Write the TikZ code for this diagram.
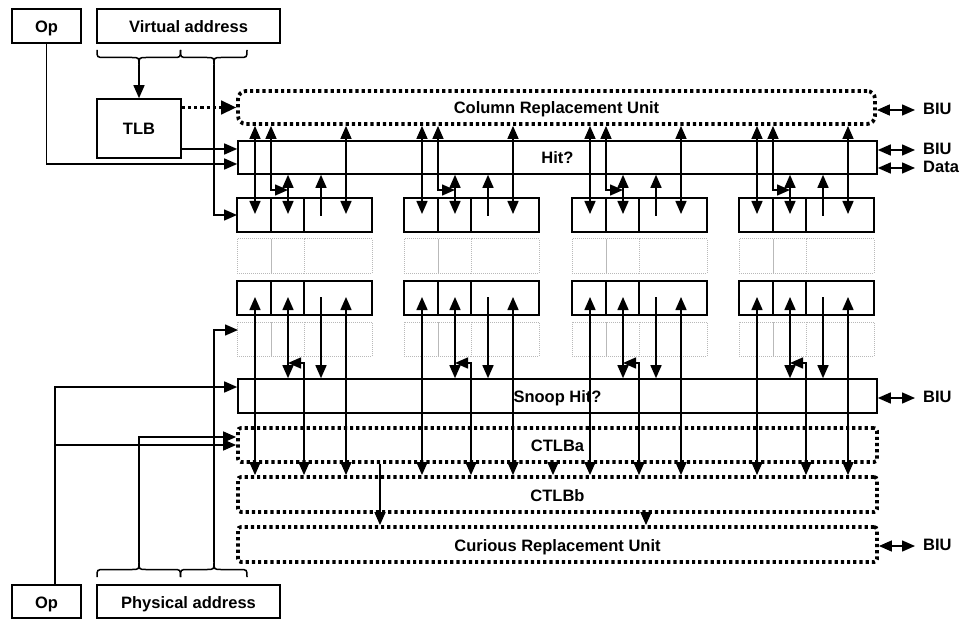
\documentclass[tikz,border=0pt]{standalone}
\usepackage{fontspec}
\setmainfont{Liberation Sans}
\usetikzlibrary{arrows.meta,calc}
\begin{document}
\begin{tikzpicture}[x=1pt,y=-1pt,
  every node/.style={font=\fontsize{16.5}{19}\selectfont\bfseries,text height=14pt,text depth=1pt},
  box/.style={draw,line width=1.6pt,inner sep=0pt},
  dbox/.style={draw,line width=3.8pt,dash pattern=on 3.2pt off 3pt,inner sep=0pt,rounded corners=3pt},
  gcell/.style={draw=gray!55,line width=1pt,dash pattern=on 1pt off 1pt},
  scell/.style={draw,line width=1.6pt},
  arr/.style={line width=1.5pt,-{Triangle[length=13pt,width=11pt]}},
  darr/.style={line width=1.5pt,{Triangle[length=13pt,width=11pt]}-{Triangle[length=13pt,width=11pt]}},
  brc/.style={line width=1.5pt},
]
\useasboundingbox (0,0) rectangle (963,620);

% top-left boxes
\node[box,minimum width=69pt,minimum height=34pt] (OpT) at (46.5,26) {Op};
\node[box,minimum width=183pt,minimum height=34pt] (VA) at (188.5,26) {Virtual address};
\node[box,minimum width=84pt,minimum height=59pt] (TLB) at (139,128.5) {TLB};

% bottom-left boxes
\node[box,minimum width=69pt,minimum height=33pt] (OpB) at (46.5,601.5) {Op};
\node[box,minimum width=183pt,minimum height=33pt] (PA) at (188.5,601.5) {Physical address};

% wide units
\node[dbox,rounded corners=8pt,minimum width=637pt,minimum height=33pt] (CRU) at (556.5,107.5) {Column Replacement Unit};
\node[box,minimum width=639pt,minimum height=33pt] (Hit) at (557.5,157.5) {Hit?};
\node[box,minimum width=639pt,minimum height=34pt] (Snoop) at (557.5,396) {Snoop Hit?};
\node[dbox,minimum width=639pt,minimum height=34pt] (CTLBa) at (557.5,445) {CTLBa};
\node[dbox,minimum width=639pt,minimum height=35pt] (CTLBb) at (557.5,494.5) {CTLBb};
\node[dbox,minimum width=639pt,minimum height=35pt] (Cur) at (557.5,544.5) {Curious Replacement Unit};

% cells
\foreach \x in {237,404,572,739}{
  \foreach \y/\st in {198/scell,239/gcell,281/scell,322/gcell}{
    \draw[\st] (\x,\y) rectangle ++(34,34);
    \draw[\st] (\x+34,\y) rectangle ++(33,34);
    \draw[\st] (\x+67,\y) rectangle ++(68,34);
  }
}

% arrows per column group
\foreach \x in {237,404,572,739}{
  \coordinate (xa) at (\x+18,0);
  \coordinate (xb) at (\x+34,0);
  \coordinate (xc) at (\x+51,0);
  \coordinate (xd) at (\x+84,0);
  \coordinate (xe) at (\x+109,0);
  \coordinate (xf) at (\x+67,0);
  % upper row
  \draw[darr] (xa |- CRU.south) -- (\x+18,214);
  \draw[darr] (xb |- CRU.south) |- (\x+51,190);
  \draw[darr] (xc |- Hit.south) -- (\x+51,214);
  \draw[arr] (\x+84,216) -- (xd |- Hit.south);
  \draw[darr] (xe |- CRU.south) -- (\x+109,214);
  % lower row
  \draw[darr] (\x+18,297) -- (xa |- CTLBb.north);
  \draw[darr] (\x+51,297) -- (xc |- Snoop.north);
  \draw[darr] (\x+51,363) -| (xf |- CTLBb.north);
  \draw[arr] (\x+84,297) -- (xd |- Snoop.north);
  \draw[darr] (\x+109,297) -- (xe |- CTLBb.north);
}

% extra unit-to-unit arrows
\coordinate (e1) at (553,0);
\coordinate (e2) at (380,0);
\coordinate (e3) at (646,0);
\draw[arr] (e1 |- CTLBa.south) -- (e1 |- CTLBb.north);
\draw[arr] (e2 |- CTLBa.south) -- (e2 |- Cur.north);
\draw[arr] (e3 |- CTLBb.south) -- (e3 |- Cur.north);

% top braces
\draw[brc] (97,50) .. controls (97,57.5) .. (104.5,57.5) -- (131.5,57.5) .. controls (139,57.5) .. (139,65)
  .. controls (139,57.5) .. (146.5,57.5) -- (173,57.5) .. controls (180.5,57.5) .. (180.5,50);
\draw[brc] (180.5,50) .. controls (180.5,57.5) .. (188,57.5) -- (206.5,57.5) .. controls (214,57.5) .. (214,65)
  .. controls (214,57.5) .. (221.5,57.5) -- (239.5,57.5) .. controls (247,57.5) .. (247,50);
\coordinate (cA) at (139,65);
\coordinate (cB) at (214,65);

% bottom braces
\draw[brc] (97,577) .. controls (97,569.5) .. (104.5,569.5) -- (131.5,569.5) .. controls (139,569.5) .. (139,562)
  .. controls (139,569.5) .. (146.5,569.5) -- (173,569.5) .. controls (180.5,569.5) .. (180.5,577);
\draw[brc] (180.5,577) .. controls (180.5,569.5) .. (188,569.5) -- (206.5,569.5) .. controls (214,569.5) .. (214,562)
  .. controls (214,569.5) .. (221.5,569.5) -- (239.5,569.5) .. controls (247,569.5) .. (247,577);
\coordinate (cC) at (139,562);
\coordinate (cD) at (214,562);

% left-side connectors (top)
\draw[arr] (cA) -- (TLB.north);
\coordinate (r1w) at (237,215);
\draw[arr] (cB) |- (r1w);
\draw[line width=3.8pt,dash pattern=on 3.2pt off 3pt] (TLB.east |- CRU.west) -- ($(CRU.west)+(-14,0)$);
\draw[line width=1.5pt,-{Triangle[length=15pt,width=14pt]}] ($(CRU.west)+(-16,0)$) -- (CRU.west);
\coordinate (hA) at ($(Hit.west)+(0,-8.5)$);
\coordinate (hB) at ($(Hit.west)+(0,6.5)$);
\draw[arr] (TLB.east |- hA) -- (hA);
\draw[arr] (OpT.south) |- (hB);

% left-side connectors (bottom)
\coordinate (r4w) at (238,330);
\draw[arr] (cD) |- (r4w);
\coordinate (aA) at ($(CTLBa.west)+(0,-8)$);
\draw[arr] (cC) |- (aA);
\coordinate (opx) at ($(OpB.north)+(8.5,0)$);
\coordinate (sA) at ($(Snoop.west)+(0,-9)$);
\draw[arr] (opx) |- (sA);
\draw[arr] (opx |- CTLBa.west) -- (CTLBa.west);

% right-side BIU / Data
\node[anchor=west,inner sep=0pt,text height=12pt,text depth=3pt] (biu1) at (923,110) {BIU};
\node[anchor=west,inner sep=0pt,text height=12pt,text depth=3pt] (biu2) at (923,150) {BIU};
\node[anchor=west,inner sep=0pt,text height=12pt,text depth=3pt] (data) at (923,168) {Data};
\node[anchor=west,inner sep=0pt,text height=12pt,text depth=3pt] (biu3) at (923,398) {BIU};
\node[anchor=west,inner sep=0pt,text height=12pt,text depth=3pt] (biu4) at (923,546) {BIU};
\draw[darr] (CRU.east |- biu1.west) -- ($(biu1.west)+(-8,0)$);
\draw[darr] ($(Hit.east |- biu2.west)$) -- ($(biu2.west)+(-8,0)$);
\draw[darr] ($(Hit.east |- data.west)$) -- ($(data.west)+(-8,0)$);
\draw[darr] (Snoop.east |- biu3.west) -- ($(biu3.west)+(-8,0)$);
\draw[darr] (Cur.east |- biu4.west) -- ($(biu4.west)+(-8,0)$);
\end{tikzpicture}
\end{document}
